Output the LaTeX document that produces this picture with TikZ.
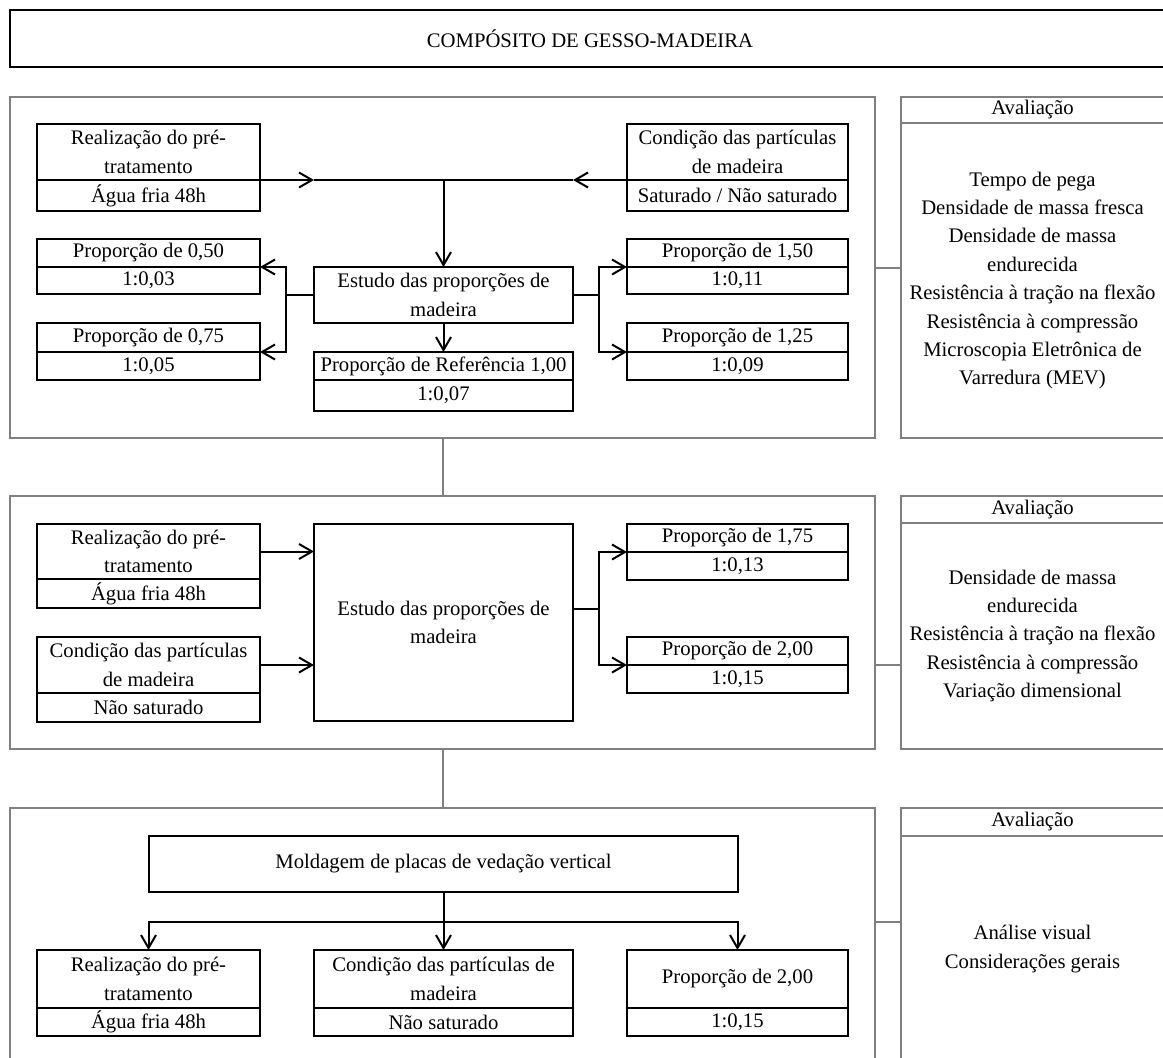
\documentclass[tikz,border=0pt]{standalone}
\usepackage{fontspec}
\setmainfont{Liberation Serif}
\usetikzlibrary{arrows.meta}
\definecolor{pgray}{RGB}{128,128,128}
\tikzset{rect/.code args={#1/#2/#3/#4}{%
  \pgfmathsetmacro\rw{(#3-#1)*0.5}%
  \pgfmathsetmacro\rh{(#4-#2)*0.5}%
  \pgfmathsetmacro\rcx{(#1+#3)/2}%
  \pgfmathsetmacro\rcy{(#2+#4)/2}%
  \edef\rtmp{\noexpand\pgfkeysalso{minimum width=\rw pt, minimum height=\rh pt, at={(\rcx,\rcy)}}}%
  \rtmp}}
\begin{document}
\begin{tikzpicture}[x=0.5pt,y=-0.5pt,
  every node/.style={font=\fontsize{10.35pt}{14.2pt}\selectfont},
  bx/.style={draw=black, line width=1.1pt, inner sep=0pt, outer sep=0pt, align=center, anchor=center},
  gbx/.style={draw=pgray, line width=1pt, inner sep=0pt, outer sep=0pt, align=center, anchor=center},
  arr/.style={draw=black, line width=1pt, -{Straight Barb[length=6.5pt,width=7.5pt,line width=1pt]}},
  ln/.style={draw=black, line width=1pt},
  gln/.style={draw=pgray, line width=1pt}]
\useasboundingbox (0,0) rectangle (1163,1057);
\clip (0,0) rectangle (1163,1057);
\fill[white] (0,0) rectangle (1163,1057);

% title
\node[bx, rect=10/10/1170/67] (title) {COMPÓSITO DE GESSO-MADEIRA};

% ---------- panel 1 ----------
\node[gbx, rect=10/97/875/438] (pan1) {};
\node[gbx, rect=901/97/1164/123] (ev1h) {Avaliação};
\node[gbx, rect=901/123/1164/438] (ev1b) {Tempo de pega\\Densidade de massa fresca\\Densidade de massa\\endurecida\\Resistência à tração na flexão\\Resistência à compressão\\Microscopia Eletrônica de\\Varredura (MEV)};

\node[bx, rect=37/124/260/180] (r1a) {Realização do pré-\\tratamento};
\node[bx, rect=37/180/260/211] (r1b) {Água fria 48h};
\node[bx, rect=627/124/848/180] (c1a) {Condição das partículas\\de madeira};
\node[bx, rect=627/180/848/211] (c1b) {Saturado / Não saturado};
\node[bx, rect=37/239/260/267] (p050a) {Proporção de 0,50};
\node[bx, rect=37/267/260/294] (p050b) {1:0,03};
\node[bx, rect=37/323/260/352] (p075a) {Proporção de 0,75};
\node[bx, rect=37/352/260/380] (p075b) {1:0,05};
\node[bx, rect=314/267/573/323] (e1) {Estudo das proporções de\\madeira};
\node[bx, rect=314/352/573/380] (ref1a) {Proporção de Referência 1,00};
\node[bx, rect=314/380/573/411] (ref1b) {1:0,07};
\node[bx, rect=627/239/848/267] (p150a) {Proporção de 1,50};
\node[bx, rect=627/267/848/294] (p150b) {1:0,11};
\node[bx, rect=627/323/848/352] (p125a) {Proporção de 1,25};
\node[bx, rect=627/352/848/380] (p125b) {1:0,09};

\draw[arr] (r1a.south east) -- (r1a.south east -| e1.west);
\draw[ln] (r1a.south east -| e1.west) -- (c1a.south west -| e1.east);
\draw[arr] (c1a.south west) -- (c1a.south west -| e1.east);
\draw[arr] (r1a.south east -| e1.north) -- (e1.north);
\coordinate (l1) at (286,295);
\coordinate (rr1) at (599,295);
\draw[ln] (e1.west) -- (l1);
\draw[arr] (l1) |- (p050a.south east);
\draw[arr] (l1) |- (p075a.south east);
\draw[ln] (e1.east) -- (rr1);
\draw[arr] (rr1) |- (p150a.south west);
\draw[arr] (rr1) |- (p125a.south west);
\draw[arr] (e1.south) -- (ref1a.north);
\draw[gln] (pan1.east) -- (pan1.east -| ev1b.west);

% ---------- panel 2 ----------
\node[gbx, rect=10/496/875/749] (pan2) {};
\node[gbx, rect=901/496/1164/523] (ev2h) {Avaliação};
\node[gbx, rect=901/523/1164/749] (ev2b) {Densidade de massa\\endurecida\\Resistência à tração na flexão\\Resistência à compressão\\Variação dimensional};

\node[bx, rect=37/524/260/579] (r2a) {Realização do pré-\\tratamento};
\node[bx, rect=37/579/260/608] (r2b) {Água fria 48h};
\node[bx, rect=37/637/260/693] (c2a) {Condição das partículas\\de madeira};
\node[bx, rect=37/693/260/722] (c2b) {Não saturado};
\node[bx, rect=314/524/573/721] (e2) {Estudo das proporções de\\madeira};
\node[bx, rect=627/524/848/552] (p175a) {Proporção de 1,75};
\node[bx, rect=627/552/848/580] (p175b) {1:0,13};
\node[bx, rect=627/637/848/665] (p200a) {Proporção de 2,00};
\node[bx, rect=627/665/848/693] (p200b) {1:0,15};

\draw[arr] (r2a.east) -- (r2a.east -| e2.west);
\draw[arr] (c2a.east) -- (c2a.east -| e2.west);
\coordinate (rr2) at (599,609);
\draw[ln] (e2.east |- rr2) -- (rr2);
\draw[arr] (rr2) |- (p175a.south west);
\draw[arr] (rr2) |- (p200a.south west);
\coordinate (g2) at (875,665);
\draw[gln] (g2) -- (g2 -| ev2b.west);

% ---------- panel 3 ----------
\node[gbx, rect=10/808/875/1062] (pan3) {};
\node[gbx, rect=901/808/1164/836] (ev3h) {Avaliação};
\node[gbx, rect=901/836/1164/1062] (ev3b) {Análise visual\\Considerações gerais};

\node[bx, rect=149/836/738/892] (mold) {Moldagem de placas de vedação vertical};
\node[bx, rect=37/950/260/1008] (r3a) {Realização do pré-\\tratamento};
\node[bx, rect=37/1008/260/1036] (r3b) {Água fria 48h};
\node[bx, rect=314/950/573/1008] (c3a) {Condição das partículas de\\madeira};
\node[bx, rect=314/1008/573/1036] (c3b) {Não saturado};
\node[bx, rect=627/950/848/1008] (p3a) {Proporção de 2,00};
\node[bx, rect=627/1008/848/1036] (p3b) {1:0,15};

\coordinate (j3) at (443.5,922);
\draw[arr] (mold.south) -- (c3a.north);
\draw[arr] (j3) -| (r3a.north);
\draw[arr] (j3) -| (p3a.north);
\coordinate (g3) at (875,922);
\draw[gln] (g3) -- (g3 -| ev3b.west);

% panel links
\draw[gln] (pan1.south) -- (pan2.north);
\draw[gln] (pan2.south) -- (pan3.north);
\end{tikzpicture}
\end{document}
